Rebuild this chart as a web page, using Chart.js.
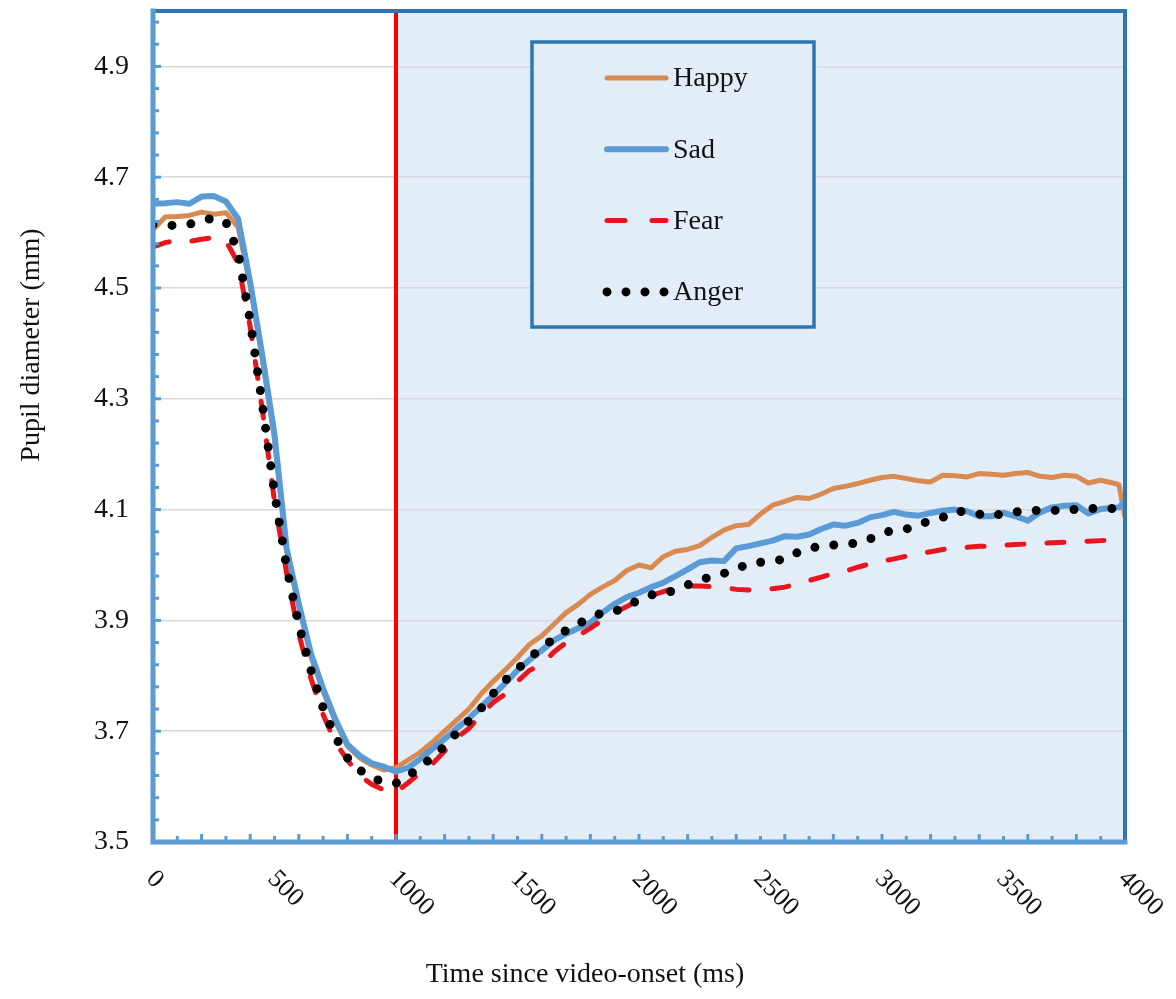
<!DOCTYPE html>
<html><head><meta charset="utf-8">
<script src="https://cdn.jsdelivr.net/npm/chart.js@4.4.1/dist/chart.umd.min.js"></script>
<style>html,body{margin:0;padding:0;background:#fff}canvas{display:block}</style>
</head><body>
<canvas id="c" width="1176" height="999"></canvas>
<script>
const times = [0,50,100,150,200,250,300,350,400,450,500,550,600,650,700,750,800,850,900,950,
1000,1050,1100,1150,1200,1250,1300,1350,1400,1450,1500,1550,1600,1650,1700,1750,1800,1850,1900,1950,
2000,2050,2100,2150,2200,2250,2300,2350,2400,2450,2500,2550,2600,2650,2700,2750,2800,2850,2900,2950,
3000,3050,3100,3150,3200,3250,3300,3350,3400,3450,3500,3550,3600,3650,3700,3750,3800,3850,3900,3950,3975,4000];

const happy = [4.605,4.628,4.629,4.631,4.637,4.633,4.636,4.610,4.505,4.372,4.228,4.025,3.925,3.835,3.772,3.718,3.673,3.652,3.639,3.630,
3.634,3.648,3.662,3.680,3.700,3.720,3.740,3.767,3.790,3.811,3.833,3.857,3.872,3.893,3.914,3.929,3.947,3.960,3.972,3.990,
4.000,3.995,4.015,4.025,4.028,4.035,4.050,4.063,4.071,4.073,4.092,4.108,4.115,4.122,4.120,4.128,4.138,4.142,4.147,4.153,
4.158,4.160,4.156,4.152,4.150,4.162,4.161,4.159,4.165,4.164,4.162,4.165,4.167,4.160,4.158,4.162,4.160,4.148,4.153,4.148,4.145,4.085];

const sad = [4.652,4.653,4.655,4.652,4.665,4.666,4.656,4.625,4.510,4.378,4.235,4.030,3.930,3.840,3.777,3.722,3.676,3.656,3.642,3.636,
3.627,3.634,3.650,3.668,3.686,3.705,3.723,3.744,3.765,3.787,3.810,3.829,3.846,3.864,3.876,3.886,3.896,3.914,3.930,3.942,
3.950,3.960,3.968,3.980,3.992,4.005,4.008,4.007,4.030,4.034,4.039,4.044,4.052,4.051,4.055,4.065,4.073,4.071,4.076,4.086,
4.090,4.096,4.091,4.089,4.094,4.098,4.100,4.097,4.088,4.088,4.094,4.088,4.080,4.095,4.104,4.107,4.108,4.093,4.101,4.103,4.104,4.115];

const fear = [4.574,4.582,4.586,4.584,4.588,4.591,4.585,4.545,4.430,4.280,4.115,3.985,3.875,3.795,3.730,3.680,3.648,3.620,3.604,3.594,
3.590,3.607,3.625,3.641,3.664,3.688,3.705,3.730,3.752,3.767,3.790,3.810,3.820,3.843,3.860,3.872,3.886,3.901,3.914,3.925,
3.937,3.945,3.952,3.959,3.962,3.962,3.961,3.959,3.956,3.955,3.956,3.957,3.960,3.966,3.972,3.978,3.985,3.989,3.996,4.002,
4.007,4.011,4.016,4.020,4.024,4.028,4.030,4.032,4.034,4.034,4.036,4.037,4.038,4.039,4.040,4.041,4.042,4.043,4.044,4.045,4.046,4.047];

const anger = [4.614,4.613,4.613,4.615,4.622,4.626,4.619,4.565,4.440,4.290,4.130,3.996,3.892,3.810,3.742,3.690,3.652,3.630,3.616,3.608,
3.606,3.619,3.636,3.653,3.673,3.697,3.719,3.741,3.768,3.792,3.812,3.832,3.851,3.867,3.882,3.894,3.905,3.914,3.916,3.926,
3.937,3.946,3.948,3.955,3.964,3.973,3.979,3.985,3.993,4.002,4.005,4.008,4.010,4.022,4.030,4.034,4.036,4.037,4.040,4.047,
4.057,4.063,4.065,4.073,4.080,4.086,4.097,4.096,4.092,4.088,4.093,4.096,4.097,4.099,4.099,4.097,4.101,4.102,4.102,4.102,4.102,4.103];

const seriesNames = ['Happy','Sad','Fear','Anger'];
const xTickLabels = [0,500,1000,1500,2000,2500,3000,3500,4000];
const yTickLabels = [3.5,3.7,3.9,4.1,4.3,4.5,4.7,4.9];
const xTitle = 'Time since video-onset (ms)';
const yTitle = 'Pupil diameter (mm)';
const stimulusOnset = 1000;

const FONT = "'Liberation Serif','Times New Roman',serif";
const PANEL = '#E3EDF8';

function pts(arr){ return times.map((t,i)=>({x:t,y:arr[i]})); }

const decor = {
  id:'decor',
  beforeDraw(chart){
    const {ctx, chartArea:a, scales:{x}} = chart;
    ctx.save();
    ctx.fillStyle='#fff'; ctx.fillRect(0,0,chart.width,chart.height);
    const xs = x.getPixelForValue(stimulusOnset);
    ctx.fillStyle=PANEL;
    ctx.fillRect(xs, a.top, a.right-xs, a.bottom-a.top);
    ctx.restore();
  },
  beforeDatasetsDraw(chart){
    const {ctx, chartArea:a, scales:{x}} = chart;
    const xs = x.getPixelForValue(stimulusOnset);
    ctx.save();
    ctx.strokeStyle='#FF0000'; ctx.lineWidth=4;
    ctx.beginPath(); ctx.moveTo(xs,a.top); ctx.lineTo(xs,a.bottom); ctx.stroke();
    ctx.restore();
  },
  afterDatasetsDraw(chart){
    const {ctx, chartArea:a, scales:{x,y}} = chart;
    ctx.save();
    ctx.strokeStyle='#2E75B6'; ctx.lineWidth=4; ctx.lineCap='square';
    ctx.beginPath(); ctx.moveTo(a.left,a.top); ctx.lineTo(a.right,a.top); ctx.lineTo(a.right,a.bottom); ctx.stroke();
    ctx.strokeStyle='#5B9BD5'; ctx.lineWidth=5;
    ctx.beginPath(); ctx.moveTo(a.left,a.top); ctx.lineTo(a.left,a.bottom); ctx.lineTo(a.right,a.bottom); ctx.stroke();
    ctx.lineWidth=3; ctx.lineCap='butt';
    for(let k=0;k<=37;k++){
      const v = 3.5 + k*0.04;
      const py = y.getPixelForValue(v);
      const len = (k%5===0)?8:6;
      ctx.beginPath(); ctx.moveTo(a.left,py); ctx.lineTo(a.left+len,py); ctx.stroke();
    }
    for(let t=100;t<4000;t+=100){
      const px = x.getPixelForValue(t);
      const len = (t%200===0)?8:6;
      ctx.beginPath(); ctx.moveTo(px,a.bottom); ctx.lineTo(px,a.bottom-len); ctx.stroke();
    }
    ctx.fillStyle='#111';
    ctx.font='26px '+FONT;
    ctx.textAlign='left'; ctx.textBaseline='middle';
    xTickLabels.forEach(t=>{
      const px = x.getPixelForValue(t);
      ctx.save();
      ctx.translate(px-3, a.bottom+33);
      ctx.rotate(Math.PI/4);
      ctx.fillText(String(t),0,0);
      ctx.restore();
    });
    ctx.font='28px '+FONT;
    ctx.textAlign='center'; ctx.textBaseline='middle';
    ctx.fillText(xTitle, 585, 975);
    ctx.save();
    ctx.translate(32,345); ctx.rotate(-Math.PI/2);
    ctx.fillText(yTitle,0,0);
    ctx.restore();
    ctx.fillStyle=PANEL;
    ctx.fillRect(532,42,282,285);
    ctx.strokeStyle='#2E75B6'; ctx.lineWidth=3.5;
    ctx.strokeRect(532,42,282,285);
    const dsets = chart.data.datasets;
    const dashes = [[],[],[18,27],[0,19]];
    dsets.forEach((d,i)=>{
      const ly = 78 + i*71.3;
      ctx.save();
      ctx.strokeStyle=d.borderColor;
      ctx.lineWidth = d.borderWidth;
      ctx.lineCap='round';
      ctx.setLineDash(dashes[i]);
      ctx.beginPath(); ctx.moveTo(607,ly); ctx.lineTo(666,ly);
      ctx.stroke();
      ctx.restore();
      ctx.fillStyle='#111';
      ctx.font='28px '+FONT;
      ctx.textAlign='left'; ctx.textBaseline='middle';
      ctx.fillText(d.label, 673, ly+1);
    });
    ctx.restore();
  }
};

new Chart(document.getElementById('c'), {
  type:'line',
  data:{
    datasets:[
      {label:seriesNames[0], data:pts(happy), borderColor:'#D88A50', borderWidth:5, pointRadius:0, tension:0, order:4, borderJoinStyle:'round'},
      {label:seriesNames[1], data:pts(sad), borderColor:'#5B9BD5', borderWidth:6, pointRadius:0, tension:0, order:3, borderJoinStyle:'round'},
      {label:seriesNames[2], data:pts(fear), borderColor:'#E8141E', borderWidth:5, borderDash:[17,23], borderCapStyle:'round', pointRadius:0, tension:0, order:2},
      {label:seriesNames[3], data:pts(anger), borderColor:'#000000', borderWidth:9, borderDash:[0,19], borderCapStyle:'round', pointRadius:0, tension:0, order:1}
    ]
  },
  options:{
    responsive:false, animation:false,
    layout:{padding:{top:11,right:51,left:0,bottom:0}},
    plugins:{legend:{display:false}, tooltip:{enabled:false}},
    scales:{
      x:{type:'linear', min:0, max:4000,
        afterBuildTicks(s){ s.ticks = xTickLabels.map(v=>({value:v})); },
        afterFit(s){ s.height = 157; s.paddingLeft = 0; s.paddingRight = 0; },
        ticks:{display:false}, grid:{display:false}, border:{display:false}},
      y:{type:'linear', min:3.5, max:5.0,
        afterBuildTicks(s){ s.ticks = yTickLabels.map(v=>({value:v})); },
        afterFit(s){ s.width = 153; s.paddingTop = 0; s.paddingBottom = 0; },
        ticks:{padding:24, color:'#111', font:{family:FONT, size:28}, callback:v=>Number(v).toFixed(1)},
        grid:{color:'#D9D9D9', lineWidth:1.5, drawTicks:false},
        border:{display:false}}
    }
  },
  plugins:[decor]
});
</script>
</body></html>
